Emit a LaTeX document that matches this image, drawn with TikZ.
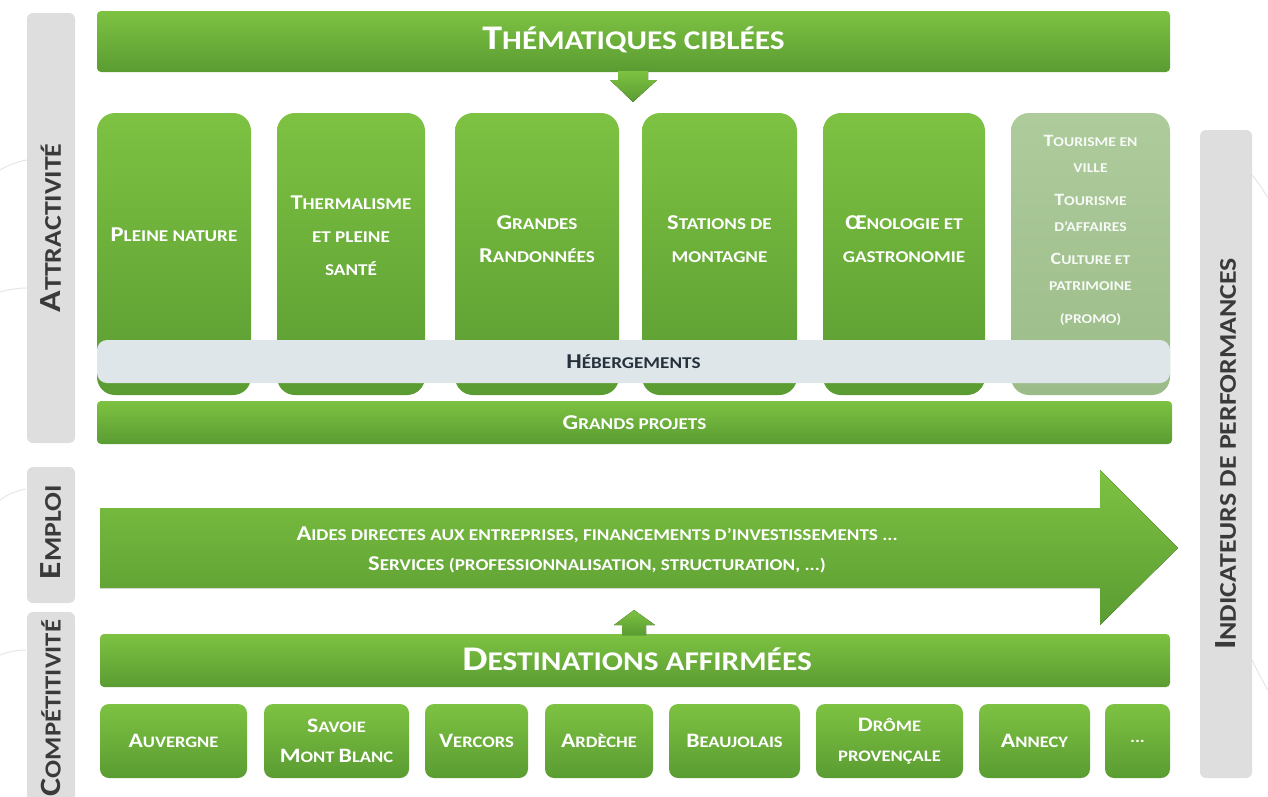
\documentclass[tikz,border=0pt]{standalone}
\usepackage{fontspec}
\setmainfont{Carlito}[FakeStretch=1.16]
\usepackage{graphicx}
\newcommand\Ic[1]{\scalebox{1.28}{#1}}
\definecolor{gL}{HTML}{7DC242}
\definecolor{gD}{HTML}{5A9C32}
\definecolor{pL}{HTML}{AECB9C}
\definecolor{pD}{HTML}{9BBC88}
\definecolor{grayBar}{HTML}{DEDEDE}
\definecolor{hebBar}{HTML}{DFE6EA}
\definecolor{darkTxt}{HTML}{3A3A3A}
\definecolor{navyTxt}{HTML}{25313C}
\definecolor{arcCol}{HTML}{E6E6E6}
\begin{document}
\begin{tikzpicture}[x=1pt,y=-1pt,
  greenbar/.style={rounded corners=4pt, top color=gL, bottom color=gD, draw=none, inner sep=0pt},
  colbox/.style={rounded corners=18pt, top color=gL, bottom color=gD, draw=none, minimum height=282pt, inner sep=0pt},
  palebox/.style={rounded corners=18pt, top color=pL, bottom color=pD, draw=none, minimum height=282pt, inner sep=0pt},
  destbox/.style={rounded corners=9pt, top color=gL, bottom color=gD, draw=none, minimum height=74pt, inner sep=0pt,
     text=white, align=center, font=\bfseries\fontsize{16}{30}\selectfont},
  sidebar/.style={rounded corners=6pt, fill=grayBar, draw=none, inner sep=0pt},
  sidelabel/.style={rotate=90, text=darkTxt, font=\bfseries\fontsize{24}{26}\selectfont},
  coltext/.style={text=white, align=center, font=\bfseries\fontsize{16.5}{33}\selectfont},
  bigtitle/.style={text=white, font=\bfseries\fontsize{27}{30}\selectfont},
  bartext/.style={font=\bfseries\fontsize{16.5}{18}\selectfont},
  arrowfill/.style={top color=gL, bottom color=gD, draw=none}
]
\path[use as bounding box] (0,0) rectangle (1268,796);

% faint background arcs
\draw[arcCol, line width=1pt] (0,170) .. controls (10,164) and (20,161) .. (27,160);
\draw[arcCol, line width=1pt] (0,292) .. controls (10,289) and (20,288) .. (27,288);
\draw[arcCol, line width=1pt] (0,500) .. controls (8,494) and (16,491) .. (26,489);
\draw[arcCol, line width=1pt] (0,655) .. controls (8,652) and (16,650) .. (26,650);
\draw[arcCol, line width=1pt] (1252,175) .. controls (1258,182) and (1263,190) .. (1268,198);
\draw[arcCol, line width=1pt] (1252,660) .. controls (1258,672) and (1263,682) .. (1268,690);

% side bars
\node[sidebar, minimum width=48pt, minimum height=430pt] (attr) at (51,228) {};
\node[sidelabel] (attrL) at (attr) {\Ic{A}TTRACTIVITÉ};
\node[sidebar, minimum width=48pt, minimum height=136pt] (empl) at (51,535) {};
\node[sidelabel] (emplL) at (51,532) {\Ic{E}MPLOI};
\node[sidebar, minimum width=48pt, minimum height=196pt] (comp) at (51,710) {};
\node[sidelabel, font=\bfseries\fontsize{23}{26}\selectfont] (compL) at (51,708) {\Ic{C}OMPÉTITIVITÉ};
\node[sidebar, minimum width=52pt, minimum height=648pt] (indic) at (1226,454) {};
\node[sidelabel] (indicL) at (indic) {\Ic{I}NDICATEURS DE PERFORMANCES};

% top bar
\node[greenbar, minimum width=1073pt, minimum height=61pt] (top) at (633.5,41.5) {};
\node[bigtitle] (topL) at (633.5,40) {\Ic{T}HÉMATIQUES CIBLÉES};
\fill[arrowfill] (618,71) -- (648,71) -- (648,80) -- (657,80) -- (633,102) -- (610,80) -- (618,80) -- cycle;

% columns
\node[colbox, minimum width=154pt] (c1) at (174,254) {};
\node[colbox, minimum width=148pt] (c2) at (351,254) {};
\node[colbox, minimum width=164pt] (c3) at (537,254) {};
\node[colbox, minimum width=155pt] (c4) at (719.5,254) {};
\node[colbox, minimum width=162pt] (c5) at (904,254) {};
\node[palebox, minimum width=159pt] (c6) at (1090.5,254) {};

\node[coltext] (t1) at (174,235) {\Ic{P}LEINE NATURE};
\node[coltext] (t2) at (351,236) {\Ic{T}HERMALISME\\ET PLEINE\\SANTÉ};
\node[coltext] (t3) at (537,239) {\Ic{G}RANDES\\\Ic{R}ANDONNÉES};
\node[coltext] (t4) at (719.5,239) {\Ic{S}TATIONS DE\\MONTAGNE};
\node[coltext] (t5) at (904,239) {\Ic{Œ}NOLOGIE ET\\GASTRONOMIE};
\node[coltext, text=white!92!pD, font=\bfseries\fontsize{13.5}{26}\selectfont] (t6) at (1090.5,230)
  {\Ic{T}OURISME EN\\VILLE\\[7pt]\Ic{T}OURISME\\D’AFFAIRES\\[7pt]\Ic{C}ULTURE ET\\PATRIMOINE\\[7pt](PROMO)};

% hebergements
\node[rounded corners=10pt, fill=hebBar, draw=none, minimum width=1073pt, minimum height=43pt, inner sep=0pt] (heb) at (633.5,361.5) {};
\node[bartext, text=navyTxt] (hebL) at (heb) {\Ic{H}ÉBERGEMENTS};

% grands projets
\node[greenbar, minimum width=1075pt, minimum height=43pt] (gp) at (634.5,422.5) {};
\node[bartext, text=white] (gpL) at (gp) {\Ic{G}RANDS PROJETS};

% big arrow
\fill[arrowfill] (100,508) -- (1100,508) -- (1100,470) -- (1178,548) -- (1100,625) -- (1100,588) -- (100,588) -- cycle;
\node[text=white, align=center, font=\bfseries\fontsize{16.5}{30}\selectfont] (arrL) at (597,550)
  {\Ic{A}IDES DIRECTES AUX ENTREPRISES, FINANCEMENTS D’INVESTISSEMENTS ...\\\Ic{S}ERVICES (PROFESSIONNALISATION, STRUCTURATION, ...)};

% destinations
\node[greenbar, minimum width=1070pt, minimum height=53pt] (dest) at (635,660.5) {};
\node[bigtitle] (destL) at (637,659) {\Ic{D}ESTINATIONS AFFIRMÉES};
\fill[arrowfill] (622,635) -- (646,635) -- (646,625) -- (655,625) -- (634,610) -- (614,625) -- (622,625) -- cycle;

\node[destbox, minimum width=147pt] (d1) at (173.5,741) {\Ic{A}UVERGNE};
\node[destbox, minimum width=145pt] (d2) at (336.5,741) {\Ic{S}AVOIE\\\Ic{M}ONT \Ic{B}LANC};
\node[destbox, minimum width=103pt] (d3) at (476.5,741) {\Ic{V}ERCORS};
\node[destbox, minimum width=108pt] (d4) at (599,741) {\Ic{A}RDÈCHE};
\node[destbox, minimum width=131pt] (d5) at (734.5,741) {\Ic{B}EAUJOLAIS};
\node[destbox, minimum width=147pt] (d6) at (889.5,741) {\Ic{D}RÔME\\PROVENÇALE};
\node[destbox, minimum width=111pt] (d7) at (1034.5,741) {\Ic{A}NNECY};
\node[destbox, minimum width=65pt] (d8) at (1137.5,741) {...};
\end{tikzpicture}
\end{document}
